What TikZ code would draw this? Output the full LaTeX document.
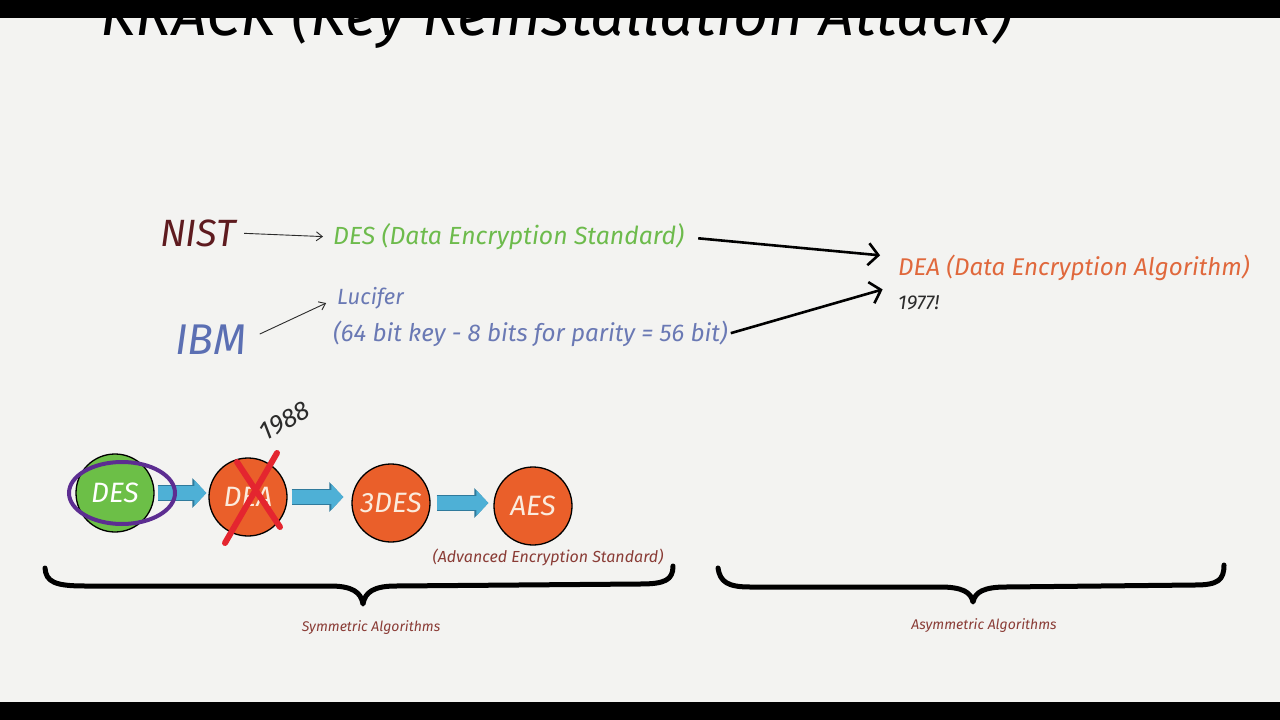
\documentclass[tikz,border=0pt]{standalone}
\usepackage{fontspec}
\setmainfont{Fira Sans}
\usetikzlibrary{arrows.meta,calc}
\definecolor{bg}{HTML}{F3F3F1}
\definecolor{nistred}{HTML}{5E1B1F}
\definecolor{desgreen}{HTML}{6DBB4C}
\definecolor{deaorange}{HTML}{E0683C}
\definecolor{ibmblue}{HTML}{5B6FB3}
\definecolor{lucblue}{HTML}{6A79B4}
\definecolor{brownlbl}{HTML}{8A3C36}
\definecolor{cgreen}{HTML}{6CBF47}
\definecolor{corange}{HTML}{EA5F2A}
\definecolor{cpurple}{HTML}{5C2D91}
\definecolor{redx}{HTML}{E4252F}
\definecolor{arrowblue}{HTML}{4EB0D6}
\definecolor{arrowedge}{HTML}{2F7A9C}
\definecolor{ink}{HTML}{2B2B2B}
\definecolor{cream}{HTML}{FBEBDD}
\newcommand\fsz[1]{\fontsize{#1}{#1}\selectfont}
\begin{document}
\begin{tikzpicture}[x=1pt,y=-1pt,
  txt/.style={inner sep=0pt},
  thinarrow/.style={draw=ink, line width=0.9pt, -{Straight Barb[length=6pt,width=9pt]}},
  thickarrow/.style={draw=black, line width=2.6pt, -{Straight Barb[length=10pt,width=22pt]}},
  circ/.style={circle, draw=black, line width=1.3pt, inner sep=0pt, minimum size=78pt, font=\itshape\fsz{28}},
  blockarr/.style={draw=arrowblue, line width=14pt, -{Triangle[length=12pt,width=25pt]},
    preaction={draw=arrowedge, line width=16pt, -{Triangle[length=14pt,width=29pt]}}},
  bracepath/.style={draw=black, line width=5pt, line cap=round, line join=round}]
\useasboundingbox (0,0) rectangle (1280,720);
\fill[bg] (0,0) rectangle (1280,720);
% title, partly hidden
\node[txt, anchor=base west, font=\itshape\fsz{61}] (title) at (100,35) {KRACK (Key Reinstallation Attack)};
\fill[black] (0,0) rectangle (1280,18);
\fill[black] (0,702) rectangle (1280,720);

% upper part
\node[txt, font=\itshape\fsz{38}, text=nistred] (nist) at (198,233) {NIST};
\node[txt, anchor=west, font=\itshape\fsz{24.8}, text=desgreen] (dest) at (333,237) {DES (Data Encryption Standard)};
\node[txt, anchor=west, font=\itshape\fsz{24.2}, text=deaorange] (deat) at (898,268) {DEA (Data Encryption Algorithm)};
\node[txt, anchor=west, font=\itshape\fsz{20}, text=ink] (y77) at (898,303) {1977!};
\node[txt, font=\itshape\fsz{43}, text=ibmblue] (ibm) at (211,340) {IBM};
\node[txt, anchor=west, font=\itshape\fsz{22}, text=lucblue] (luc) at (337,298) {Lucifer};
\node[txt, anchor=west, font=\itshape\fsz{24.2}, text=lucblue] (bits) at (333,334) {(64 bit key - 8 bits for parity = 56 bit)};

\draw[thinarrow, shorten <=8pt, shorten >=10pt] (nist.east) -- (dest.west);
\draw[thinarrow, shorten <=14pt, shorten >=12pt] (ibm.east) -- (luc.west);
\draw[thickarrow, shorten <=14pt, shorten >=18pt] (dest.east) -- ([yshift=11pt]deat.west);
\draw[thickarrow, shorten <=3pt, shorten >=16pt] (bits.east) -- ([yshift=-17pt]deat.west);

% lower part
\node[circ, fill=cgreen, text=white] (c1) at (115,493) {DES};
\node[circ, fill=corange, text=cream] (c2) at (248,497) {DEA};
\node[circ, fill=corange, text=cream] (c3) at (391,503) {3DES};
\node[circ, fill=corange, text=cream] (c4) at (533,506) {AES};

\draw[blockarr, shorten <=3pt, shorten >=2pt] (c1.east) -- (c2.west |- c1.east);
\draw[blockarr, shorten <=4pt, shorten >=8pt] (c2.east) -- (c3.west |- c2.east);
\draw[blockarr, shorten <=6pt, shorten >=5pt] (c3.east) -- (c4.west |- c3.east);

\draw[cpurple, line width=4pt] (122,493) ellipse (53pt and 31pt);
\draw[redx, line width=6pt, line cap=round] (277,453) -- (225,543);
\draw[redx, line width=6pt, line cap=round] (237,462) -- (280,527);
\node[txt, rotate=29, font=\itshape\fsz{26}, text=ink] (y88) at (285,421) {1988};

\node[txt, font=\itshape\fsz{16}, text=brownlbl] (aesn) at (548,557) {(Advanced Encryption Standard)};

% braces
\draw[bracepath] (45,568) .. controls (46,582) and (55,586) .. (85,586) -- (330,586)
  .. controls (352,586) and (361,592) .. (363,604)
  .. controls (365,592) and (374,586) .. (396,586) -- (640,584)
  .. controls (665,584) and (673,580) .. (673,566);
\draw[bracepath] (718,568) .. controls (720,582) and (728,587) .. (750,587) -- (940,587)
  .. controls (962,587) and (971,592) .. (973,602)
  .. controls (975,592) and (984,587) .. (1006,587) -- (1195,585)
  .. controls (1218,585) and (1224,580) .. (1224,565);

\node[txt, font=\itshape\fsz{14}, text=brownlbl] (sym) at (371,628) {Symmetric Algorithms};
\node[txt, font=\itshape\fsz{14}, text=brownlbl] (asym) at (984,626) {Asymmetric Algorithms};
\end{tikzpicture}
\end{document}
